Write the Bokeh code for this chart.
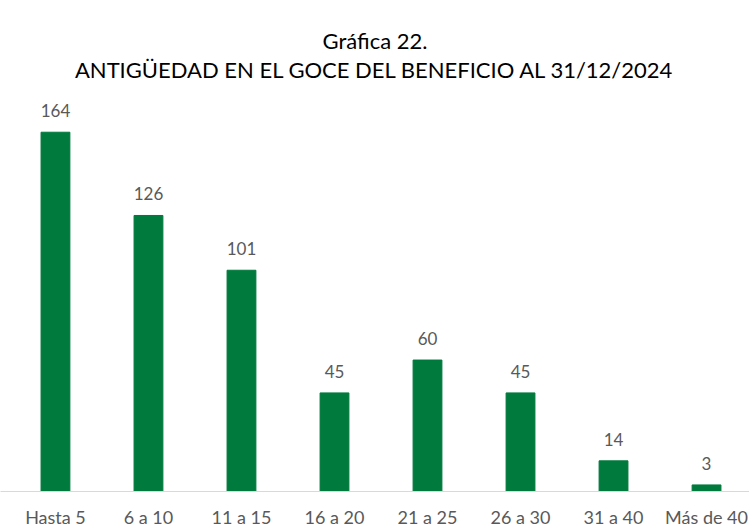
from bokeh.plotting import figure
from bokeh.models import ColumnDataSource, Title, FixedTicker, Range1d, LabelSet
from bokeh.core.properties import value
from bokeh.embed import file_html
from bokeh.resources import INLINE

categories = ["Hasta 5", "6 a 10", "11 a 15", "16 a 20", "21 a 25", "26 a 30", "31 a 40", "Más de 40"]
values = [164, 126, 101, 45, 60, 45, 14, 3]
title_lines = ["Gráfica 22.", "ANTIGÜEDAD EN EL GOCE DEL BENEFICIO AL 31/12/2024"]

FONT = "Lato"
GREEN = "#007A3D"
GRAY_TXT = "#595959"

xs = list(range(len(categories)))
src = ColumnDataSource(dict(x=xs, top=values, label=[str(v) for v in values]))

p = figure(width=749, height=530, output_backend="svg", toolbar_location=None,
           x_range=Range1d(-0.591, 7.462), y_range=Range1d(0, 186.7),
           min_border_left=0, min_border_right=0, min_border_top=82, min_border_bottom=0)

p.vbar(x="x", top="top", width=0.31, source=src, color=GREEN)

labels = LabelSet(x="x", y="top", text="label", source=src, text_align="center",
                  text_baseline="bottom", y_offset=15, text_font_size="17px",
                  text_color=GRAY_TXT, text_font=value(FONT))
p.add_layout(labels)

# outer title line (added titles stack nearer the frame)
p.title.text = title_lines[0]
p.title.align = "center"
p.title.text_font = FONT
p.title.text_font_size = "22px"
p.title.text_font_style = "normal"
p.title.text_color = "#000000"
p.title.text_line_height = 0.6
p.title.standoff = 0
p.add_layout(Title(text=title_lines[1], align="center", text_font=FONT,
                   text_font_size="22px", text_font_style="normal", text_line_height=0.8,
                   text_color="#000000", standoff=0), "above")

p.yaxis.visible = False
p.xgrid.visible = False
p.ygrid.visible = False
p.outline_line_color = None

p.xaxis.ticker = FixedTicker(ticks=xs)
p.xaxis.major_label_overrides = {i: c for i, c in enumerate(categories)}
p.xaxis.axis_line_color = "#D9D9D9"
p.xaxis.axis_line_width = 1
p.xaxis.major_tick_line_color = None
p.xaxis.minor_tick_line_color = None
p.xaxis.major_tick_out = 0
p.xaxis.major_tick_in = 0
p.xaxis.major_label_standoff = 14
p.xaxis.major_label_text_line_height = 1.0
p.xaxis.major_label_text_font = FONT
p.xaxis.major_label_text_font_size = "18px"
p.xaxis.major_label_text_color = GRAY_TXT

open("out.html", "w").write(file_html(p, INLINE))
